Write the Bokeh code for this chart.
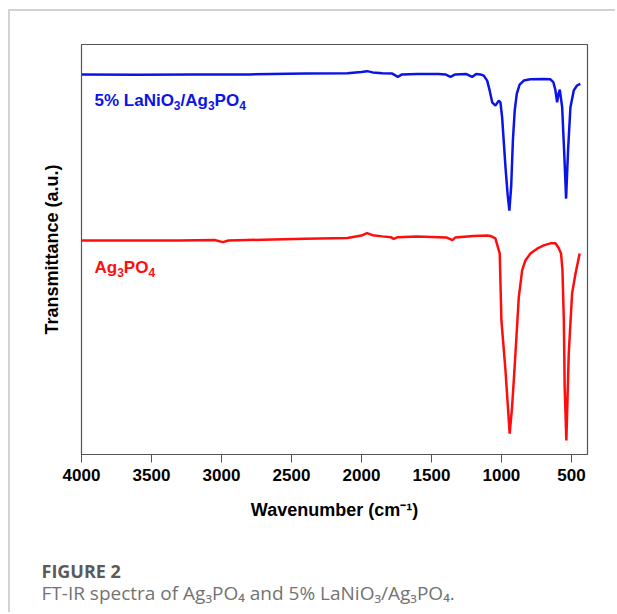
from bokeh.plotting import figure
from bokeh.models import Range1d, FixedTicker, Label, Title
from bokeh.embed import file_html
from bokeh.resources import INLINE

# 5% LaNiO3/Ag3PO4 (blue)
wavenumber_blue = [4000, 3600, 3200, 2800, 2400, 2100, 2000, 1960, 1920, 1850, 1780, 1740, 1710, 1600,
                   1450, 1400, 1364, 1330, 1250, 1209, 1180, 1150, 1126, 1102, 1084, 1066, 1043, 1019,
                   1007, 995, 971, 955, 943, 930, 918, 905, 890, 870, 840, 793, 700, 650, 629, 615,
                   602, 592, 583, 566, 550, 538, 524, 507, 483, 460, 436]
transmittance_blue = [92.7, 92.6, 92.7, 92.7, 92.9, 93.0, 93.3, 93.5, 93.2, 93.0, 92.9, 92.1, 92.7, 92.8,
                      92.8, 92.7, 92.1, 92.7, 92.8, 92.1, 92.8, 92.7, 92.4, 91.2, 88.8, 85.9, 85.1, 86.3,
                      85.9, 82.3, 70.1, 63.2, 59.5, 65.6, 76.6, 83.9, 88.0, 90.2, 91.2, 91.5, 91.6, 91.5, 90.8, 89.0,
                      85.9, 88.0, 89.0, 84.7, 72.5, 62.4, 74.1, 84.7, 88.8, 90.0, 90.4]

# Ag3PO4 (red)
wavenumber_red = [4000, 3600, 3300, 3050, 2990, 2950, 2700, 2400, 2100, 2000, 1960, 1920, 1850, 1790,
                  1770, 1740, 1600, 1450, 1390, 1350, 1330, 1200, 1100, 1079, 1043, 1012, 1000, 971,
                  941, 924, 907, 876, 852, 829, 793, 745, 698, 650, 614, 593, 574, 564, 554, 548, 536,
                  519, 495, 471, 441]
transmittance_red = [52.2, 52.2, 52.2, 52.3, 51.8, 52.2, 52.4, 52.6, 52.8, 53.4, 54.0, 53.5, 53.2, 53.0,
                     52.6, 53.0, 53.2, 53.0, 52.9, 52.3, 52.9, 53.3, 53.4, 53.3, 52.7, 49.0, 32.7, 20.5,
                     5.1, 11.5, 20.5, 38.3, 44.9, 47.3, 49.0, 50.2, 51.0, 51.5, 51.5, 50.5, 49.0, 45.1, 32.7, 16.3, 3.4,
                     24.6, 39.3, 44.1, 49.0]

x_ticks = [4000, 3500, 3000, 2500, 2000, 1500, 1000, 500]

# label pieces: (text, is_subscript)
label_blue = [("5% LaNiO", False), ("3", True), ("/Ag", False), ("3", True), ("PO", False), ("4", True)]
label_red = [("Ag", False), ("3", True), ("PO", False), ("4", True)]
x_title = "Wavenumber (cm\u207b\u00b9)"
y_title = "Transmittance (a.u.)"
fig_title = "FIGURE 2"
caption = "FT-IR spectra of Ag\u2083PO\u2084 and 5% LaNiO\u2083/Ag\u2083PO\u2084."

FONT = "Liberation Sans"
BLUE = "#0a14e6"
RED = "#ff0d0d"

# Arial/Liberation Sans Bold advance widths (per 1000 em)
ADV = {"5": 556, "%": 889, " ": 278, "L": 611, "a": 556, "N": 722, "i": 278, "O": 778,
       "/": 278, "A": 722, "g": 611, "P": 667, "3": 556, "4": 556}

p = figure(width=607, height=603, output_backend="svg", toolbar_location=None,
           x_range=Range1d(4000, 385), y_range=Range1d(0, 100),
           min_border_left=71, min_border_right=30, min_border_top=33, min_border_bottom=160,
           background_fill_color="white", border_fill_color="white",
           styles={"margin-left": "8px", "margin-top": "9px",
                   "border-top": "2px solid #d2d2d2", "border-left": "2px solid #d2d2d2"})

p.line(wavenumber_blue, transmittance_blue, color=BLUE, line_width=2.5)
p.line(wavenumber_red, transmittance_red, color=RED, line_width=2.5)

p.xgrid.visible = False
p.ygrid.visible = False
p.outline_line_color = "#555555"
p.outline_line_width = 1.2

xa = p.xaxis[0]
xa.ticker = FixedTicker(ticks=x_ticks)
xa.major_tick_out = 8
xa.major_tick_in = 0
xa.minor_tick_out = 0
xa.minor_tick_in = 0
xa.axis_line_color = "#555555"
xa.major_tick_line_color = "#555555"
xa.major_label_text_font = FONT
xa.major_label_text_font_style = "bold"
xa.major_label_text_font_size = "17px"
xa.major_label_text_color = "black"
xa.major_label_standoff = 6
xa.axis_label = x_title
xa.axis_label_text_font = FONT
xa.axis_label_text_font_style = "bold"
xa.axis_label_text_font_size = "18px"
xa.axis_label_text_color = "black"
xa.axis_label_standoff = 16

ya = p.yaxis[0]
ya.ticker = FixedTicker(ticks=[])
ya.major_tick_out = 0
ya.minor_tick_out = 0
ya.axis_line_color = "#555555"
ya.major_label_text_font_size = "0px"
ya.axis_label = y_title
ya.axis_label_text_font = FONT
ya.axis_label_text_font_style = "bold"
ya.axis_label_text_font_size = "18px"
ya.axis_label_text_color = "black"
ya.axis_label_standoff = 20


def add_formula(pieces, x0, base, color, size=17, sub_size=12, sub_drop=4.5):
    x = x0
    for txt, sub in pieces:
        fs = sub_size if sub else size
        p.add_layout(Label(x=x, y=base + (sub_drop if sub else 0), x_units="canvas", y_units="canvas",
                           text=txt, text_font=FONT, text_font_style="bold",
                           text_font_size=f"{fs}px", text_color=color, text_baseline="alphabetic"))
        x += sum(ADV.get(c, 556) for c in txt) * fs / 1000.0


add_formula(label_blue, 82, 87, BLUE)
add_formula(label_red, 82, 254, RED)

t_space = Title(text=" ", align="left", standoff=32, text_font_size="2px")
t_fig = Title(text=fig_title, align="left", offset=-40, standoff=-4,
              text_font="Open Sans", text_font_style="bold", text_font_size="18px",
              text_color="#5a5a5a")
t_cap = Title(text=caption, align="left", offset=-40, standoff=-6,
              text_font="Open Sans", text_font_style="normal", text_font_size="19px",
              text_color="#737373")
p.add_layout(t_space, "below")
p.add_layout(t_fig, "below")
p.add_layout(t_cap, "below")

open("out.html", "w").write(file_html(p, INLINE))
